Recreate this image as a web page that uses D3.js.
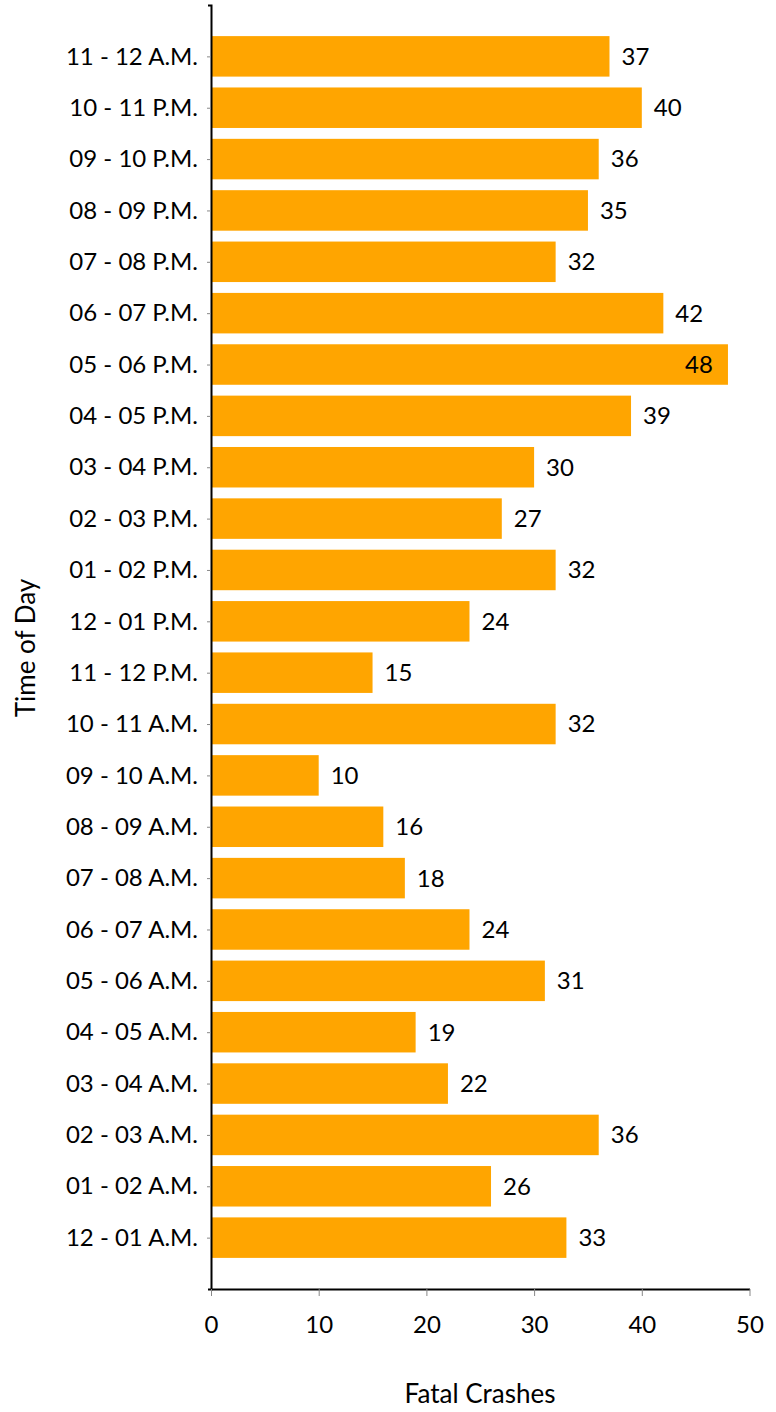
<!DOCTYPE html>
<html><head><meta charset="utf-8">
<script src="https://cdn.jsdelivr.net/npm/d3@7"></script>
<style>body{margin:0;background:#fff}</style>
</head><body>
<svg id="c" width="776" height="1412"></svg>
<script>
const categories = ["11 - 12 A.M.","10 - 11 P.M.","09 - 10 P.M.","08 - 09 P.M.","07 - 08 P.M.","06 - 07 P.M.","05 - 06 P.M.","04 - 05 P.M.","03 - 04 P.M.","02 - 03 P.M.","01 - 02 P.M.","12 - 01 P.M.","11 - 12 P.M.","10 - 11 A.M.","09 - 10 A.M.","08 - 09 A.M.","07 - 08 A.M.","06 - 07 A.M.","05 - 06 A.M.","04 - 05 A.M.","03 - 04 A.M.","02 - 03 A.M.","01 - 02 A.M.","12 - 01 A.M."];
const values = [37,40,36,35,32,42,48,39,30,27,32,24,15,32,10,16,18,24,31,19,22,36,26,33];
const xTicks = [0,10,20,30,40,50];

const svg = d3.select("#c");
const font = "Lato, 'Open Sans', sans-serif";
const x = d3.scaleLinear().domain([0,50]).range([211,749.5]);
const y = d3.scalePoint().domain(categories).range([5,1289]).padding(1);
const barH = 40.5;

svg.selectAll("rect.bar").data(values).join("rect")
  .attr("class","bar")
  .attr("x", x(0))
  .attr("y", (d,i)=>y(categories[i]) - barH/2)
  .attr("width", d=>x(d)-x(0))
  .attr("height", barH)
  .attr("fill","#FFA500");

svg.selectAll("text.val").data(values).join("text")
  .attr("class","val")
  .attr("x", d=> d===48 ? x(d)-15 : x(d)+12)
  .attr("y", (d,i)=>y(categories[i]))
  .attr("dy","0.35em")
  .attr("text-anchor", d=> d===48 ? "end" : "start")
  .attr("font-family", font).attr("font-size", 24).attr("fill","#000")
  .text(d=>d);

const yAxis = svg.append("g").attr("transform","translate(211,0)")
  .call(d3.axisLeft(y).tickSize(4).tickSizeOuter(3).tickPadding(9));
yAxis.select(".domain").attr("stroke","#000").attr("stroke-width",2);
yAxis.selectAll(".tick line").attr("stroke","#888");
yAxis.selectAll(".tick text").attr("font-family",font).attr("font-size",24).attr("fill","#000");

const xAxis = svg.append("g").attr("transform","translate(0,1289)")
  .call(d3.axisBottom(x).tickValues(xTicks).tickSize(7).tickSizeOuter(0).tickPadding(20));
xAxis.select(".domain").attr("stroke","#000").attr("stroke-width",2);
xAxis.selectAll(".tick line").attr("stroke","#888");
xAxis.selectAll(".tick text").attr("font-family",font).attr("font-size",24).attr("fill","#000");

svg.append("text").attr("x",480).attr("y",1403).attr("text-anchor","middle")
  .attr("font-family",font).attr("font-size",26).attr("fill","#000").text("Fatal Crashes");
svg.append("text").attr("transform","translate(35,648) rotate(-90)").attr("text-anchor","middle")
  .attr("font-family",font).attr("font-size",26).attr("fill","#000").text("Time of Day");
</script>
</body></html>
